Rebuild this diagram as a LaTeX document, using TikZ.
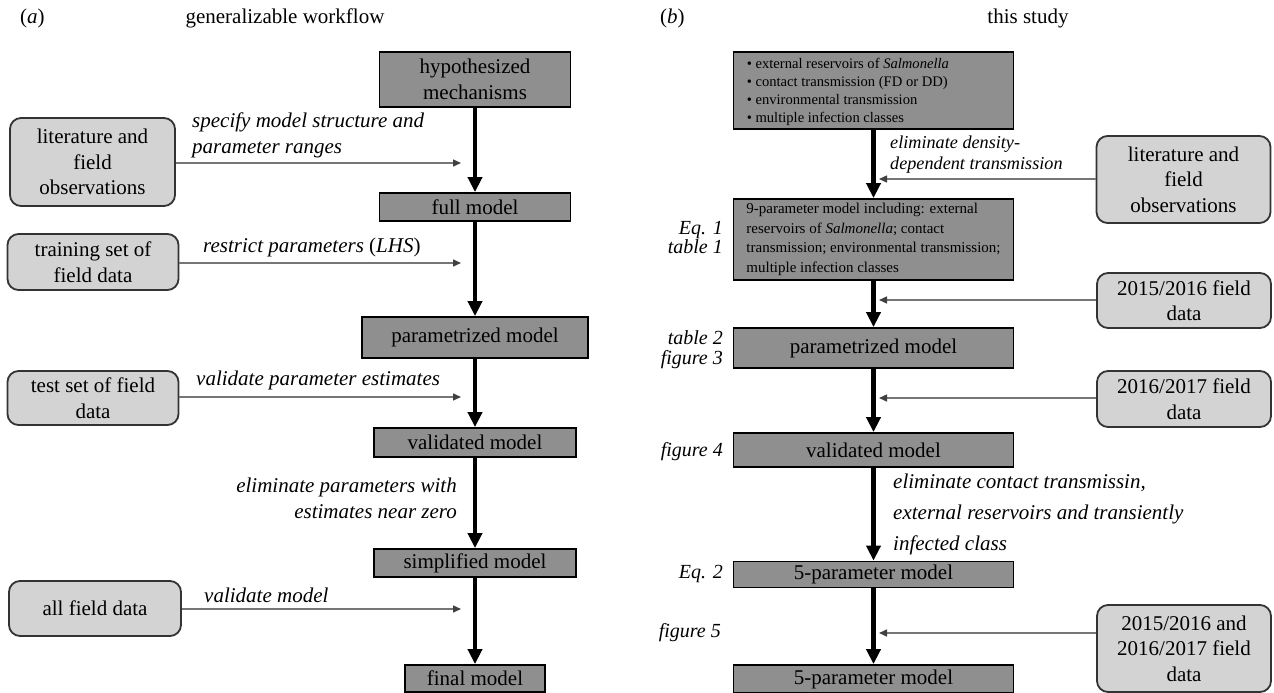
\documentclass[tikz,border=0pt]{standalone}
\usepackage{fontspec}
\setmainfont{Liberation Serif}
\usetikzlibrary{arrows.meta}
\definecolor{boxdark}{HTML}{8F8F8F}
\definecolor{boxlight}{HTML}{D3D3D3}
\definecolor{sidegray}{HTML}{767676}
\newcommand\mainsz{\fontsize{21}{25.5}\selectfont}
\newcommand\topsz{\fontsize{14.6}{18}\selectfont}
\newcommand\ninesz{\fontsize{15}{19.7}\selectfont}
\newcommand\refsz{\fontsize{20}{19.5}\selectfont}
\newcommand\densz{\fontsize{18.2}{21}\selectfont}
\begin{document}
\begin{tikzpicture}[x=1pt,y=-1pt,
  darkbox/.style={draw=black, line width=1.8pt, fill=boxdark, inner sep=0pt, align=center, font=\mainsz},
  lightbox/.style={draw=black!80, line width=1.8pt, fill=boxlight, rounded corners=11pt, inner sep=0pt, align=center, font=\mainsz},
  mainarrow/.style={line width=4.5pt, -{Triangle[length=15pt,width=14pt]}},
  sidearrow/.style={draw=sidegray, line width=1.5pt, -{Triangle[length=8pt,width=7pt,color=black!75]}},
  lab/.style={font=\mainsz\itshape, inner sep=0pt},
  head/.style={font=\mainsz, inner sep=0pt},
]
\useasboundingbox (0,0) rectangle (1274,693);

% ---------- panel (a) ----------
\node[head, anchor=west] (ta) at (20,18) {(\textit{a})};
\node[head] (tgen) at (285,18) {generalizable workflow};

\node[darkbox, minimum width=191, minimum height=55] (hyp) at (475,79.5) {hypothesized\\mechanisms};
\node[darkbox, minimum width=191, minimum height=28] (full) at (475,207) {full model};
\node[darkbox, minimum width=226, minimum height=41] (param) at (475,337.5) {parametrized model};
\node[darkbox, minimum width=202, minimum height=29] (valid) at (475,442.5) {validated model};
\node[darkbox, minimum width=202, minimum height=28] (simp) at (475,563) {simplified model};
\node[darkbox, minimum width=140, minimum height=27] (final) at (475,678.5) {final model};

\node[lightbox, minimum width=165, minimum height=88] (lit) at (92.5,162) {literature and\\field\\observations};
\node[lightbox, minimum width=171, minimum height=56] (train) at (93,262) {training set of\\field data};
\node[lightbox, minimum width=171, minimum height=54] (test) at (93,398) {test set of field\\data};
\node[lightbox, minimum width=172, minimum height=55] (all) at (95,608.5) {all field data};

\draw[mainarrow] (hyp) -- (full);
\draw[mainarrow] (full) -- (param);
\draw[mainarrow] (param) -- (valid);
\draw[mainarrow] (valid) -- (simp);
\draw[mainarrow] (simp) -- (final);

\coordinate (a1) at (461,163);
\coordinate (a2) at (461,263);
\coordinate (a3) at (461,397);
\coordinate (a4) at (461,609);
\draw[sidearrow] (lit.east |- a1) -- (a1);
\draw[sidearrow] (train.east |- a2) -- (a2);
\draw[sidearrow] (test.east |- a3) -- (a3);
\draw[sidearrow] (all.east |- a4) -- (a4);

\node[lab, anchor=west, align=left] (l1) at (192,135.5) {specify model structure and\\parameter ranges};
\node[lab, anchor=west] (l2) at (203,247) {restrict parameters \textup{(}LHS\textup{)}};
\node[lab, anchor=west] (l3) at (196,380) {validate parameter estimates};
\node[lab, anchor=east, align=right] (l4) at (457,498.5) {eliminate parameters with\\estimates near zero};
\node[lab, anchor=west] (l5) at (204,595) {validate model};

% ---------- panel (b) ----------
\node[head, anchor=west] (tb) at (660,18) {(\textit{b})};
\node[head] (tstudy) at (1028,18) {this study};

\node[darkbox, minimum width=280, minimum height=77] (top) at (873.5,90.5) {};
\node[anchor=west, align=left, font=\topsz, inner sep=0pt] (toptext) at ([xshift=14pt,yshift=-1pt]top.west)
  {• external reservoirs of \textit{Salmonella}\\
   • contact transmission (FD or DD)\\
   • environmental transmission\\
   • multiple infection classes};
\node[darkbox, minimum width=280, minimum height=81, align=left, font=\ninesz] (nine) at (873.5,239.5)
  {9-parameter model including: external\\
   reservoirs of \textit{Salmonella}; contact\\
   transmission; environmental transmission;\\
   multiple infection classes};
\node[darkbox, minimum width=280, minimum height=40] (rparam) at (873.5,348) {parametrized model};
\node[darkbox, minimum width=280, minimum height=34] (rvalid) at (873.5,450) {validated model};
\node[darkbox, minimum width=280, minimum height=26] (five1) at (873.5,574.5) {5-parameter model};
\node[darkbox, minimum width=280, minimum height=28] (five2) at (873.5,679) {5-parameter model};

\node[lightbox, minimum width=174, minimum height=87] (rlit) at (1183.5,179.5) {literature and\\field\\observations};
\node[lightbox, minimum width=174, minimum height=55] (d1) at (1184,300.5) {2015/2016 field\\data};
\node[lightbox, minimum width=174, minimum height=56] (d2) at (1184,399) {2016/2017 field\\data};
\node[lightbox, minimum width=174, minimum height=87] (d3) at (1184,648.5) {2015/2016 and\\2016/2017 field\\data};

\draw[mainarrow] (top) -- (nine);
\draw[mainarrow] (nine) -- (rparam);
\draw[mainarrow] (rparam) -- (rvalid);
\draw[mainarrow] (rvalid) -- (five1);
\draw[mainarrow] (five1) -- (five2);

\coordinate (b1) at (879,179);
\coordinate (b2) at (879,300);
\coordinate (b3) at (879,398);
\coordinate (b4) at (879,633);
\draw[sidearrow] (rlit.west |- b1) -- (b1);
\draw[sidearrow] (d1.west |- b2) -- (b2);
\draw[sidearrow] (d2.west |- b3) -- (b3);
\draw[sidearrow] (d3.west |- b4) -- (b4);

\node[lab, anchor=west, align=left, font=\densz\itshape] (r1) at (890,154.5) {eliminate density-\\dependent transmission};
\node[lab, anchor=west] (r2a) at (893,483) {eliminate contact transmissin,};
\node[lab, anchor=west] (r2b) at (893,514) {external reservoirs and transiently};
\node[lab, anchor=west] (r2c) at (893,545) {infected class};

\node[lab, anchor=east, align=right, font=\refsz\itshape] (e1) at (723,237.5) {Eq. 1\\table 1};
\node[lab, anchor=east, align=right, font=\refsz\itshape] (e3) at (723,349.5) {table 2\\figure 3};
\node[lab, anchor=east, font=\refsz\itshape] (e5) at (723,452) {figure 4};
\node[lab, anchor=east, font=\refsz\itshape] (e6) at (723,574) {Eq. 2};
\node[lab, anchor=east, font=\refsz\itshape] (e7) at (721,633) {figure 5};
\end{tikzpicture}
\end{document}
